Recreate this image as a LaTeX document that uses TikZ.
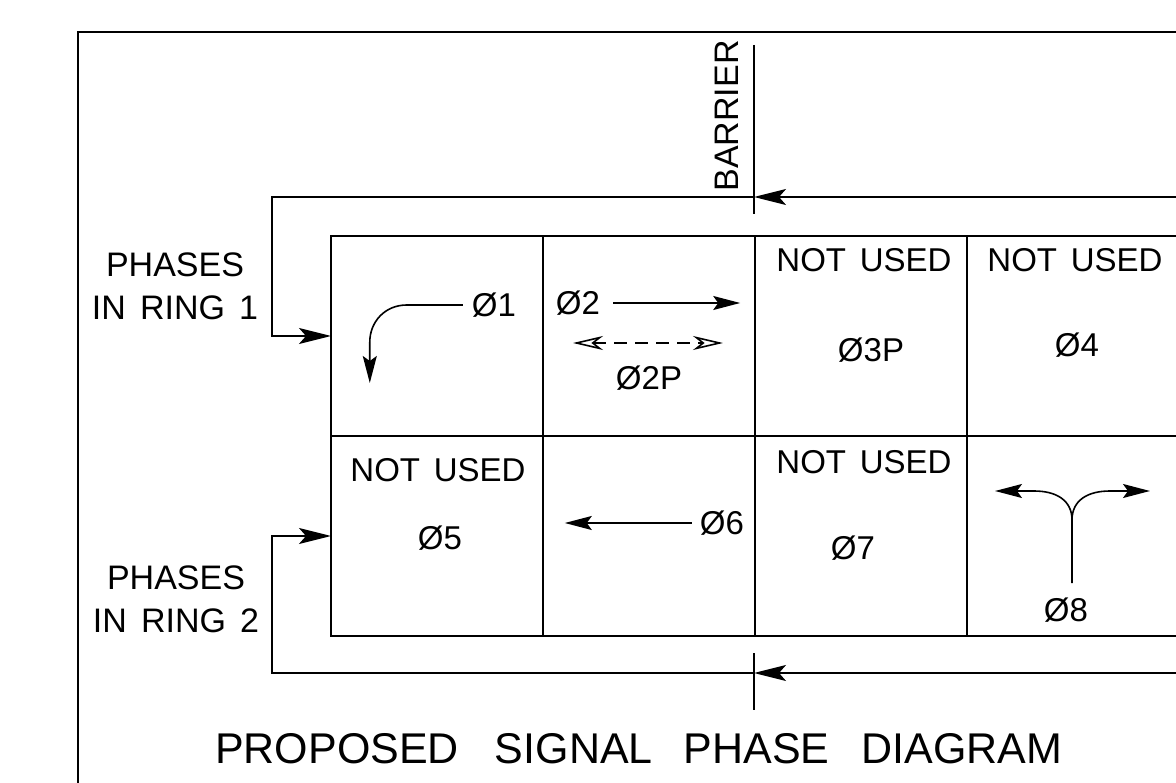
\documentclass[tikz,border=0pt]{standalone}
\usepackage{fontspec}
\setmainfont{Liberation Sans}[WordSpace=1.5]
\usepackage{tikz}
\usetikzlibrary{positioning, arrows.meta, calc}

\begin{document}
\begin{tikzpicture}[
    x=1pt, y=-1pt,
    cell/.style={rectangle, draw, line width=2pt, minimum width=212pt, minimum height=200pt, inner sep=0pt, outer sep=0pt},
    lbl/.style={inner sep=0pt, font=\fontsize{33}{40}\selectfont},
    ringlbl/.style={inner sep=0pt, align=center, font=\fontsize{34}{43}\selectfont},
    ringline/.style={line width=2pt},
    ringarrow/.style={line width=2pt, -{Stealth[length=32pt, width=16pt, inset=7pt]}},
    movearrow/.style={line width=1.6pt, -{Stealth[length=27pt, width=14pt, inset=5pt]}},
    pedarrow/.style={line width=1.6pt, dash pattern=on 13pt off 8pt, {Stealth[open, length=30pt, width=14pt, inset=9pt]}-{Stealth[open, length=30pt, width=14pt, inset=9pt]}}
]
\clip (0,0) rectangle (1176,783);
\draw[line width=2pt] (78,32) rectangle (1220,820);

% phase grid
\foreach \c/\x in {1/437, 2/649, 3/861, 4/1073}
  \foreach \r/\y in {1/336, 2/536}
    \node[cell] (c\r\c) at (\x,\y) {};

% ring 1
\node[lbl] (p1) at (494,305) {Ø1};
\draw[movearrow] ([xshift=-9pt]p1.west) -- ++(-56,0) .. controls ++(-22,0) and ++(0,-20) .. ++(-37,37) -- ++(0,41);
\node[lbl] (p2) at (578,303) {Ø2};
\draw[movearrow] ([xshift=13pt]p2.east) -- ++(127,0);
\node[lbl] (p2p) at (649,378) {Ø2P};
\coordinate (ped) at (648,343);
\draw[pedarrow] ([xshift=-75pt]ped) -- ([xshift=75pt]ped);
\node[lbl] (n3) at (864,260) {NOT USED};
\node[lbl] (p3p) at (871,350) {Ø3P};
\node[lbl] (n4) at (1075,260) {NOT USED};
\node[lbl] (p4) at (1077,345) {Ø4};

% ring 2
\node[lbl] (n5) at (438,470) {NOT USED};
\node[lbl] (p5) at (440,538) {Ø5};
\node[lbl] (p6) at (722,523) {Ø6};
\draw[movearrow] ([xshift=-8pt]p6.west) -- ++(-127,0);
\node[lbl] (n7) at (864,462) {NOT USED};
\node[lbl] (p7) at (853,548) {Ø7};
\node[lbl] (p8) at (1066,610) {Ø8};
\coordinate (y8) at (1072,583);
\coordinate (yj) at (1072,520);
\draw[movearrow] (y8) -- (yj) .. controls (1072,500) and (1056,491) .. (1034,491) -- (995,491);
\draw[movearrow] (yj) .. controls (1072,500) and (1088,491) .. (1110,491) -- (1150,491);

% barrier
\coordinate (bt) at (754,45);
\coordinate (bb) at (754,214);
\draw[ringline] (bt) -- (bb);
\node[ringlbl, rotate=90] (bar) at (727,116) {BARRIER};
\coordinate (tt) at (754,653);
\coordinate (tb) at (754,710);
\draw[ringline] (tt) -- (tb);

% ring loops
\coordinate (r1) at (1190,197);
\coordinate (b1) at (754,197);
\draw[ringarrow] (r1) -- (b1);
\draw[ringarrow] (b1) -- (272,197) |- (c11.west);
\coordinate (r2) at (1190,673);
\coordinate (b2) at (754,673);
\draw[ringarrow] (r2) -- (b2);
\draw[ringarrow] (b2) -- (272,673) |- (c21.west);

\node[ringlbl] (ring1) at (175,286) {PHASES\\IN RING 1};
\node[ringlbl] (ring2) at (176,599) {PHASES\\IN RING 2};

\node[inner sep=0pt, anchor=west, font=\fontsize{43}{50}\selectfont] (title) at (215,749)
  {PROPOSED\hspace{36pt}SIGNAL\hspace{31pt}PHASE\hspace{32pt}DIAGRAM};
\end{tikzpicture}
\end{document}
